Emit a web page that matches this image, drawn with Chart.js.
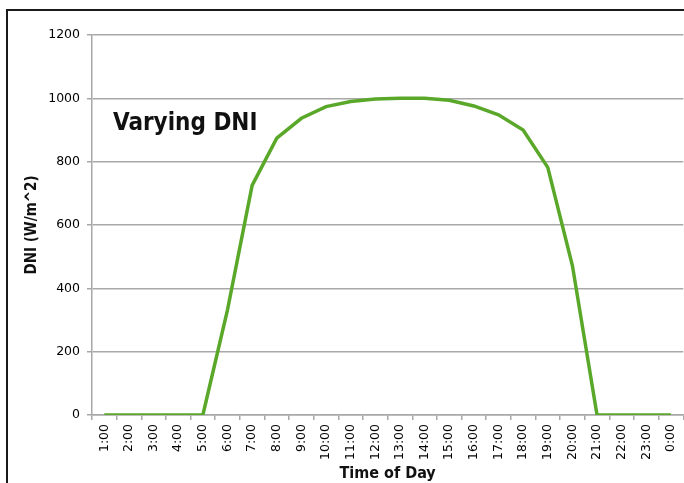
<!DOCTYPE html>
<html>
<head>
<meta charset="utf-8">
<script src="https://cdn.jsdelivr.net/npm/chart.js@4"></script>
<style>
  html, body { margin: 0; padding: 0; background: #fff; overflow: hidden; }
  #wrap { position: absolute; left: 0; top: 0; width: 690px; height: 483px; }
  #frame {
    position: absolute; left: 6px; top: 9px; width: 800px; height: 600px;
    border-left: 2px solid #1a1a1a; border-top: 2px solid #1a1a1a;
    pointer-events: none;
  }
</style>
</head>
<body>
<div id="wrap">
  <canvas id="dniChart" width="690" height="483"></canvas>
</div>
<div id="frame"></div>
<script>
// Hours of the day and DNI values
const hours = ["1:00", "2:00", "3:00", "4:00", "5:00", "6:00", "7:00", "8:00",
  "9:00", "10:00", "11:00", "12:00", "13:00", "14:00", "15:00", "16:00",
  "17:00", "18:00", "19:00", "20:00", "21:00", "22:00", "23:00", "0:00"];
const dni = [0, 0, 0, 0, 0, 332, 725, 874, 937, 974, 990, 998, 1000, 1000,
  994, 976, 948, 900, 782, 472, 0, 0, 0, 0];
const yTicks = [0, 200, 400, 600, 800, 1000, 1200];

const tickFont = { family: "'DejaVu Sans', Verdana, sans-serif", size: 12.5 };
const titleFamily = "'DejaVu Sans Condensed', 'DejaVu Sans', sans-serif";

// "Varying DNI" label inside the plot
const insideLabel = {
  id: "insideLabel",
  afterDraw(chart) {
    const { ctx, chartArea } = chart;
    ctx.save();
    ctx.font = "bold 24px " + titleFamily;
    ctx.fillStyle = "#111";
    ctx.textBaseline = "alphabetic";
    ctx.fillText("Varying DNI", chartArea.left + 21, chartArea.top + 95);
    ctx.restore();
  }
};

const ctx = document.getElementById("dniChart").getContext("2d");
const chart = new Chart(ctx, {
  type: "line",
  data: {
    labels: hours,
    datasets: [{
      label: "DNI",
      data: dni,
      borderColor: "#5aa82a",
      borderWidth: 3.5,
      pointRadius: 0,
      tension: 0,
      fill: false
    }]
  },
  options: {
    responsive: false,
    animation: false,
    layout: { padding: { top: 35, right: 3, left: 0, bottom: 0 } },
    plugins: {
      legend: { display: false },
      tooltip: { enabled: false }
    },
    scales: {
      x: {
        offset: true,
        grid: {
          offset: true,
          drawOnChartArea: false,
          drawTicks: true,
          tickLength: 5,
          color: "#a8a8a8",
          lineWidth: 1.5
        },
        border: { color: "#a8a8a8", width: 1.5 },
        ticks: {
          autoSkip: false,
          minRotation: 90,
          maxRotation: 90,
          padding: 4,
          color: "#000",
          font: tickFont
        },
        title: {
          display: true,
          text: "Time of Day",
          color: "#111",
          font: { family: titleFamily, size: 16, weight: "bold" },
          padding: { top: 0, bottom: 0 }
        },
        afterFit(scale) { scale.height = 68; }
      },
      y: {
        min: 0,
        max: 1200,
        afterBuildTicks(scale) {
          scale.ticks = yTicks.map(v => ({ value: v }));
        },
        grid: {
          color: "#a8a8a8",
          lineWidth: 1.5,
          tickLength: 5
        },
        border: { color: "#a8a8a8", width: 1.5 },
        ticks: {
          padding: 7,
          color: "#000",
          font: tickFont,
          callback: (value) => String(value)
        },
        title: {
          display: true,
          text: "DNI (W/m^2)",
          color: "#111",
          font: { family: titleFamily, size: 15, weight: "bold" },
          padding: { top: 23, bottom: 0 }
        },
        afterFit(scale) { scale.width = 92; }
      }
    }
  },
  plugins: [insideLabel]
});
</script>
</body>
</html>
